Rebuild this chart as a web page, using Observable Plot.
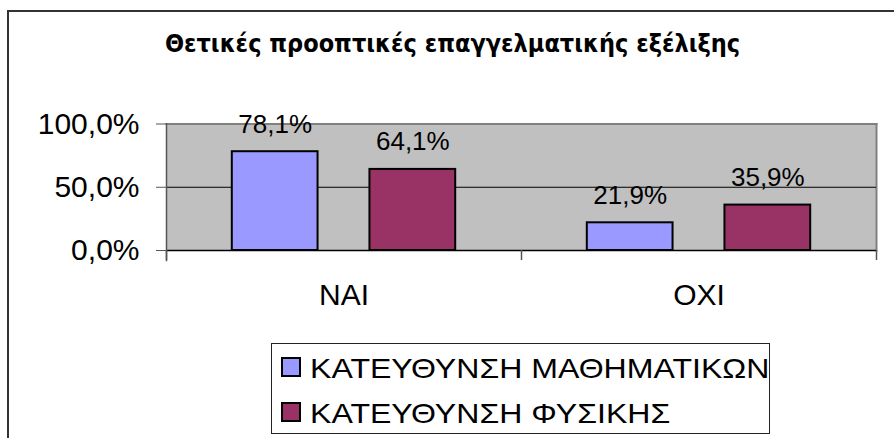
<!DOCTYPE html>
<html><head><meta charset="utf-8">
<script src="https://cdn.jsdelivr.net/npm/d3@7"></script>
<script src="https://cdn.jsdelivr.net/npm/@observablehq/plot@0.6"></script>
<style>
body{margin:0;background:#fff;}
#wrap{position:relative;width:894px;height:438px;overflow:hidden;font-family:"Liberation Sans",Arial,sans-serif;color:#000;}
#border{position:absolute;left:7px;top:10px;width:1000px;height:1000px;border-left:2px solid #333;border-top:2px solid #333;}
#chart{position:absolute;left:0;top:0;}
#title{position:absolute;left:0;width:905px;top:30.5px;text-align:center;font-family:"DejaVu Sans Condensed","DejaVu Sans",sans-serif;font-stretch:condensed;font-weight:700;font-size:25px;line-height:25px;white-space:nowrap;}
#legend{position:absolute;left:271px;top:343px;width:499px;height:91px;box-sizing:border-box;border:1px solid #222;background:#fff;}
.row{position:absolute;left:0;height:28px;font-size:28px;line-height:28px;white-space:nowrap;transform:scaleX(1.145);transform-origin:0 50%;}
.sw{position:absolute;width:20px;height:20px;box-sizing:border-box;border:2px solid #000;}
</style></head><body>
<div id="wrap">
  <div id="border"></div>
  <div id="chart"></div>
  <div id="title"></div>
  <div id="legend"></div>
</div>
<script>
const titleText = "Θετικές προοπτικές επαγγελματικής εξέλιξης";
const categories = ["ΝΑΙ", "ΟΧΙ"];
const series = ["ΚΑΤΕΥΘΥΝΣΗ ΜΑΘΗΜΑΤΙΚΩΝ", "ΚΑΤΕΥΘΥΝΣΗ ΦΥΣΙΚΗΣ"];
const mathValues = [0.781, 0.219];
const physValues = [0.641, 0.359];
const yTicks = [0, 0.5, 1];
const colors = ["#9999ff", "#993366"];

const fmt = d => (d * 100).toFixed(1).replace(".", ",") + "%";
const seriesValues = [mathValues, physValues];
const data = categories.flatMap((c, i) => series.map((s, j) => ({category: c, series: s, value: seriesValues[j][i]})));

document.getElementById("title").textContent = titleText;

const W = 894, plotH = 320, mLeft = 166, mRight = 18, mTop = 123.5, mBottom = 70;
const inner = plotH - mTop - mBottom;
// outer band (categories) and inner band (series), built with d3 band scales
const outer = d3.scaleBand().domain(categories).range([mLeft, W - mRight]).padding(0);
const bw = outer.bandwidth();
const sub = d3.scaleBand().domain(series).range([0, bw]).paddingInner(0.377).paddingOuter(0.478);

const seriesMarks = series.flatMap((s, j) => {
  const rows = data.filter(d => d.series === s);
  const left = sub(s), right = bw - sub(s) - sub.bandwidth();
  const center = sub(s) + sub.bandwidth() / 2 - bw / 2;
  return [
    Plot.barY(rows, {x: "category", y: "value", fill: "series", stroke: "#000", strokeWidth: 2, insetLeft: left, insetRight: right}),
    Plot.text(rows, {x: "category", y: "value", text: d => fmt(d.value), dx: center, dy: -19, lineAnchor: "bottom", fontSize: 26, fill: "#000"})
  ];
});

const chart = Plot.plot({
  width: W,
  height: plotH,
  marginLeft: mLeft,
  marginRight: mRight,
  marginTop: mTop,
  marginBottom: mBottom,
  style: {background: "transparent", fontFamily: "'Liberation Sans', Arial, sans-serif", color: "#000"},
  x: {domain: categories, padding: 0, axis: null},
  y: {domain: [0, 1], axis: null},
  color: {domain: series, range: colors},
  marks: [
    Plot.frame({fill: "#c0c0c0", stroke: null}),
    Plot.frame({anchor: "top", stroke: "#808080", strokeWidth: 2}),
    Plot.frame({anchor: "right", stroke: "#808080", strokeWidth: 2}),
    Plot.ruleY(yTicks.filter(d => d > 0 && d < 1), {stroke: "#000", strokeWidth: 1}),
    Plot.ruleY([0], {stroke: "#000", strokeWidth: 1.5}),
    Plot.frame({anchor: "left", stroke: "#555", strokeWidth: 1.5, insetBottom: -10}),
    Plot.ruleX(categories, {x: d => d, dx: -bw / 2, stroke: "#555", strokeWidth: 1.5, insetTop: inner, insetBottom: -10}),
    Plot.ruleX(categories.slice(-1), {x: d => d, dx: bw / 2, stroke: "#555", strokeWidth: 1.5, insetTop: inner, insetBottom: -10}),
    ...seriesMarks,
    Plot.axisY(yTicks, {tickFormat: fmt, tickSize: 10, tickPadding: 17, fontSize: 30, stroke: "#555", label: null}),
    Plot.axisX({tickSize: 0, tickPadding: 33, fontSize: 30, label: null})
  ]
});
document.getElementById("chart").appendChild(chart);

const legend = document.getElementById("legend");
series.forEach((s, i) => {
  const sw = document.createElement("div");
  sw.className = "sw";
  sw.style.left = "9px";
  sw.style.top = (13 + i * 45) + "px";
  sw.style.background = colors[i];
  legend.appendChild(sw);
  const row = document.createElement("div");
  row.className = "row";
  row.style.left = "38px";
  row.style.top = (10.6 + i * 45) + "px";
  row.textContent = s;
  legend.appendChild(row);
});
</script>
</body></html>
